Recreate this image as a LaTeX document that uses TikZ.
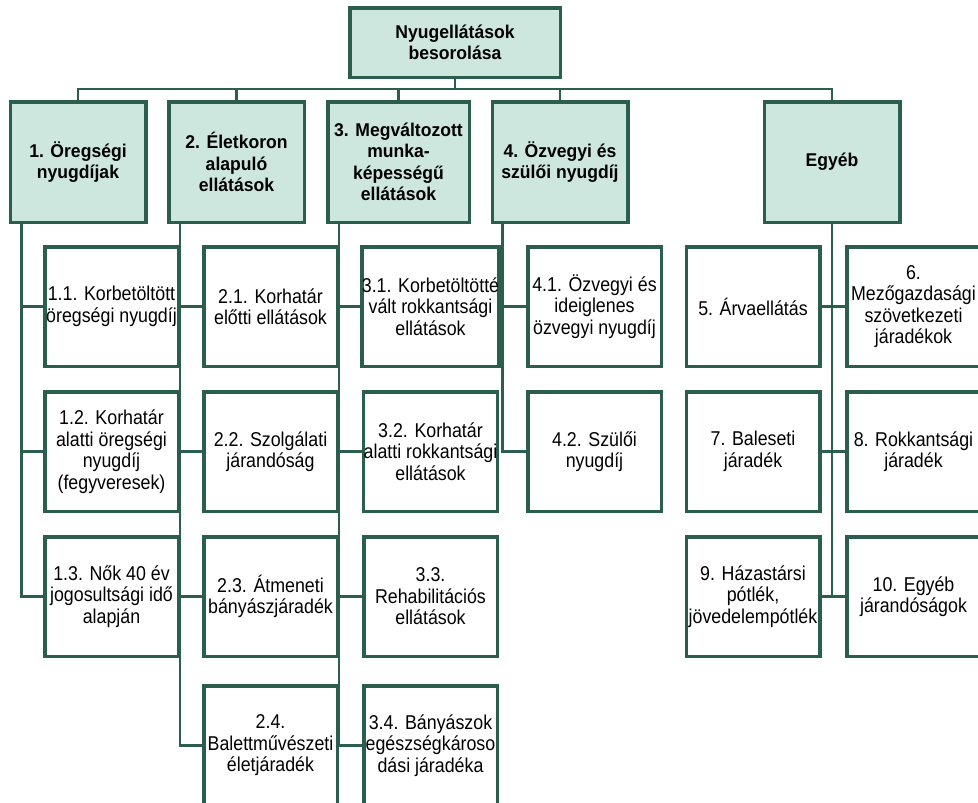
\documentclass[tikz,border=0pt]{standalone}
\usepackage{fontspec}
\setmainfont{Liberation Sans}[FakeStretch=0.89]
\newfontfamily\headfont{Liberation Sans}[FakeStretch=0.95]
\usepackage{xcolor}
\usepackage{tikz}
\definecolor{pine}{RGB}{44,94,78}
\definecolor{mint}{RGB}{205,230,222}

\begin{document}
\begin{tikzpicture}[x=1pt, y=-1pt,
    every node/.style={rectangle, draw=pine, line width=3.5pt, align=center, inner sep=0pt},
    head/.style={fill=mint, font={\headfont\bfseries\fontsize{18.5}{21.5}\selectfont}, minimum width=135.5pt, minimum height=120.5pt},
    leaf/.style={fill=white, font={\fontsize{20}{21.5}\selectfont}, minimum width=133.5pt, minimum height=119.5pt},
    link/.style={draw=pine, line width=2.4pt}]
\useasboundingbox (0,0) rectangle (978,803);

% top and first level
\node [head, minimum width=210.5pt, minimum height=69.5pt] (top) at (455,42.5) {Nyugellátások\\besorolása};
\node [head] (g1) at (78,162) {1. Öregségi\\nyugdíjak};
\node [head] (g2) at (236.5,162) {2. Életkoron\\alapuló\\ellátások};
\node [head, minimum width=141.5pt] (g3) at (398.5,162) {3. Megváltozott\\munka-\\képességű\\ellátások};
\node [head] (g4) at (560,162) {4. Özvegyi és\\szülői nyugdíj};
\node [head] (egyeb) at (832,162) {Egyéb};
\coordinate (bus) at (455,89);

% second level
\node [leaf] (n11) at (111.5,306.5) {1.1. Korbetöltött\\öregségi nyugdíj};
\node [leaf] (n12) at (111.5,451.5) {1.2. Korhatár\\alatti öregségi\\nyugdíj\\(fegyveresek)};
\node [leaf] (n13) at (111.5,596.5) {1.3. Nők 40 év\\jogosultsági idő\\alapján};

\node [leaf] (n21) at (270.5,306.5) {2.1. Korhatár\\előtti ellátások};
\node [leaf] (n22) at (270.5,451.5) {2.2. Szolgálati\\járandóság};
\node [leaf] (n23) at (270.5,596.5) {2.3. Átmeneti\\bányászjáradék};
\node [leaf] (n24) at (270.5,745.5) {2.4.\\Balettművészeti\\életjáradék};

\node [leaf] (n31) at (430.5,306.5) {3.1. Korbetöltötté\\vált rokkantsági\\ellátások};
\node [leaf] (n32) at (430.5,451.5) {3.2. Korhatár\\alatti rokkantsági\\ellátások};
\node [leaf] (n33) at (430.5,596.5) {3.3.\\Rehabilitációs\\ellátások};
\node [leaf] (n34) at (430.5,745.5) {3.4. Bányászok\\egészségkároso\\dási járadéka};

\node [leaf] (n41) at (594.5,306.5) {4.1. Özvegyi és\\ideiglenes\\özvegyi nyugdíj};
\node [leaf] (n42) at (594.5,451.5) {4.2. Szülői\\nyugdíj};

\node [leaf] (n5) at (753,306.5) {5. Árvaellátás};
\node [leaf] (n7) at (753,451.5) {7. Baleseti\\járadék};
\node [leaf] (n9) at (753,596.5) {9. Házastársi\\pótlék,\\jövedelempótlék};
\node [leaf] (n6) at (913.5,306.5) {6.\\Mezőgazdasági\\szövetkezeti\\járadékok};
\node [leaf] (n8) at (913.5,451.5) {8. Rokkantsági\\járadék};
\node [leaf] (n10) at (913.5,596.5) {10. Egyéb\\járandóságok};

% connectors
\draw [link] (top.south) -- (bus);
\draw [link] (g1.north) |- (bus);
\draw [link] (g2.north) |- (bus);
\draw [link] (g3.north) |- (bus);
\draw [link] (g4.north) |- (bus);
\draw [link] (egyeb.north) |- (bus);

\draw [link] ([xshift=13pt]g1.south west) |- (n11.west);
\draw [link] ([xshift=13pt]g1.south west) |- (n12.west);
\draw [link] ([xshift=13pt]g1.south west) |- (n13.west);
\draw [link] ([xshift=13pt]g2.south west) |- (n21.west);
\draw [link] ([xshift=13pt]g2.south west) |- (n22.west);
\draw [link] ([xshift=13pt]g2.south west) |- (n23.west);
\draw [link] ([xshift=13pt]g2.south west) |- (n24.west);
\draw [link] ([xshift=13pt]g3.south west) |- (n31.west);
\draw [link] ([xshift=13pt]g3.south west) |- (n32.west);
\draw [link] ([xshift=13pt]g3.south west) |- (n33.west);
\draw [link] ([xshift=13pt]g3.south west) |- (n34.west);
\draw [link] ([xshift=12pt]g4.south west) |- (n41.west);
\draw [link] ([xshift=12pt]g4.south west) |- (n42.west);

\draw [link] (egyeb.south) -- (egyeb.south |- n9.east);
\draw [link] (n5.east) -- (n6.west);
\draw [link] (n7.east) -- (n8.west);
\draw [link] (n9.east) -- (n10.west);
\end{tikzpicture}
\end{document}
